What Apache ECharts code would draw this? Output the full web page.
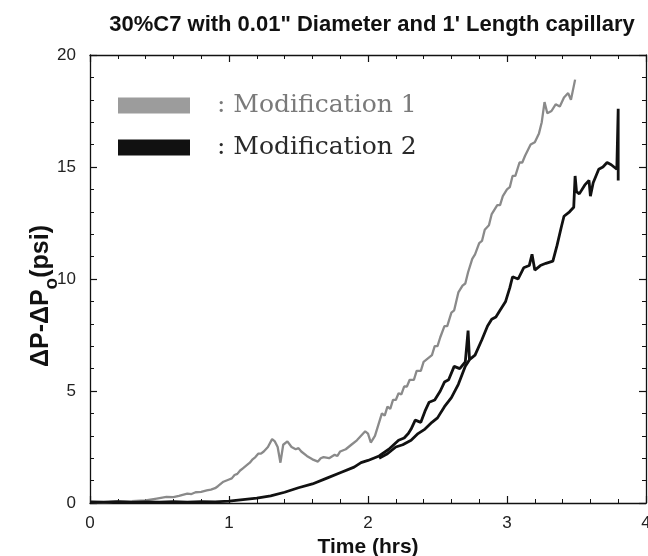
<!DOCTYPE html>
<html>
<head>
<meta charset="utf-8">
<script src="https://cdn.jsdelivr.net/npm/echarts@6/dist/echarts.min.js"></script>
<style>html,body{margin:0;padding:0;background:#fff;}#c{width:648px;height:556px;}</style>
</head>
<body>
<div id="c"></div>
<script>
var titleText = '30%C7 with 0.01" Diameter and 1\' Length capillary';
var xTicks = [0, 1, 2, 3, 4];
var yTicks = [0, 5, 10, 15, 20];
var seriesNames = ['Modification 1', 'Modification 2'];

// Modification 1 (gray) [time hrs, dP psi]
var mod1 = [
[0,0.05],[0.1,0.03],[0.2,0.06],[0.3,0.08],[0.4,0.12],[0.48,0.2],[0.52,0.24],[0.55,0.27],[0.6,0.26],[0.64,0.32],
[0.7,0.42],[0.73,0.4],[0.76,0.48],[0.8,0.5],[0.84,0.56],[0.87,0.6],[0.9,0.66],[0.92,0.75],[0.96,0.95],[1.0,1.05],
[1.02,1.1],[1.04,1.25],[1.06,1.3],[1.08,1.45],[1.1,1.55],[1.13,1.7],[1.15,1.8],[1.17,1.95],[1.19,2.05],[1.21,2.2],[1.23,2.2],[1.25,2.3],[1.28,2.5],[1.31,2.85],
[1.33,2.75],[1.35,2.5],[1.37,1.8],[1.39,2.6],[1.42,2.75],[1.45,2.5],[1.48,2.4],[1.5,2.45],[1.52,2.3],
[1.56,2.1],[1.6,1.95],[1.64,1.85],[1.66,2.0],[1.68,2.05],[1.72,2.0],[1.76,2.15],[1.78,2.1],[1.8,2.3],[1.84,2.4],
[1.88,2.6],[1.92,2.8],[1.95,3.0],[1.98,3.2],[2.0,3.1],[2.02,2.7],[2.05,3.0],[2.08,3.6],
[2.1,4.0],[2.12,3.9],[2.14,4.3],[2.16,4.2],[2.18,4.6],[2.2,4.6],[2.22,4.9],[2.24,4.85],[2.26,5.2],[2.28,5.2],[2.3,5.5],[2.33,5.5],[2.35,5.9],[2.38,5.9],[2.4,6.3],
[2.44,6.5],[2.46,6.6],[2.48,7.0],[2.5,7.0],[2.52,7.4],[2.55,7.9],[2.57,7.9],[2.6,8.5],[2.62,8.6],[2.65,9.4],[2.68,9.7],[2.7,9.8],[2.72,10.3],
[2.75,10.9],[2.77,11.1],[2.8,11.6],[2.82,11.7],[2.84,12.2],[2.87,12.4],[2.89,12.9],[2.93,13.3],[2.95,13.3],[2.97,13.7],[3.0,14.0],[3.02,14.1],[3.04,14.6],[3.06,14.6],
[3.09,15.2],[3.11,15.2],[3.13,15.5],[3.17,16.0],[3.2,16.1],[3.23,16.5],[3.25,17.0],[3.27,17.9],[3.29,17.4],
[3.32,17.5],[3.35,17.8],[3.38,17.7],[3.41,18.1],[3.44,18.3],[3.46,18.0],[3.48,18.6],[3.49,18.9]
];

// Modification 2 (black), main run [time hrs, dP psi]
var mod2 = [
[0,0.05],[0.1,0.04],[0.2,0.06],[0.3,0.03],[0.4,0.05],[0.5,0.04],[0.6,0.06],[0.7,0.04],
[0.8,0.06],[0.9,0.05],[1.0,0.08],[1.1,0.15],[1.2,0.22],[1.3,0.32],[1.4,0.48],[1.5,0.68],
[1.6,0.85],[1.7,1.1],[1.8,1.35],[1.9,1.6],[1.95,1.8],[2.0,1.9],[2.08,2.1],[2.15,2.4],
[2.22,2.8],[2.26,2.9],[2.29,3.1],[2.31,3.3],[2.34,3.7],[2.38,3.6],[2.41,4.1],[2.44,4.5],[2.48,4.6],[2.52,5.0],[2.55,5.4],
[2.58,5.5],[2.62,6.1],[2.66,6.0],[2.7,6.3],[2.72,7.7],[2.73,6.4],[2.77,6.6],[2.82,7.3],
[2.86,7.9],[2.89,8.2],[2.92,8.3],[2.95,8.6],[2.99,9.0],[3.02,9.6],[3.04,10.1],[3.08,10.0],[3.12,10.5],
[3.16,10.6],[3.18,11.1],[3.2,10.4],[3.24,10.6],[3.28,10.7],[3.33,10.8],[3.36,11.5],[3.39,12.3],
[3.41,12.8],[3.45,13.0],[3.48,13.2],[3.49,14.6],[3.5,13.9],[3.52,13.8],[3.56,14.2],[3.59,14.4],
[3.6,13.7],[3.62,14.3],[3.66,14.9],[3.69,15.0],[3.72,15.2],[3.75,15.1],[3.77,15.0],[3.79,14.9],
[3.8,17.6],[3.8,14.4]
];

// Modification 2 (black), second trace 2.1-2.7 hrs
var mod2b = [
[2.08,2.0],[2.14,2.2],[2.2,2.5],[2.25,2.6],[2.31,2.8],[2.36,3.1],[2.41,3.3],[2.46,3.6],
[2.5,3.8],[2.55,4.3],[2.6,4.7],[2.65,5.3],[2.7,6.1],[2.73,6.4]
];

var legendTextColors = ['#7a7a7a', '#2a2a2a'];

var chart = echarts.init(document.getElementById('c'));
var axisCommon = {
  type: 'value',
  axisLine: {show: true, onZero: false, lineStyle: {color: '#111', width: 1.3}},
  axisTick: {show: true, inside: true, length: 7, lineStyle: {color: '#111', width: 1.2}},
  minorTick: {show: true, splitNumber: 5, length: 4, lineStyle: {color: '#111', width: 1}},
  splitLine: {show: false},
  minorSplitLine: {show: false}
};
function merge(a, b) { var o = {}; for (var k in a) o[k] = a[k]; for (var k2 in b) o[k2] = b[k2]; return o; }

chart.setOption({
  animation: false,
  backgroundColor: '#fff',
  title: {
    text: titleText,
    left: 367, top: 9, textAlign: 'center',
    textStyle: {fontFamily: 'Liberation Sans', fontWeight: 'bold', fontSize: 22, color: '#111'}
  },
  legend: {
    data: seriesNames.map(function (n, i) { return {name: n, textStyle: {color: legendTextColors[i]}}; }),
    orient: 'vertical',
    left: 118, top: 92, padding: 0,
    itemWidth: 72, itemHeight: 16, itemGap: 15,
    icon: 'rect',
    formatter: function (n) { return ': ' + n; },
    textStyle: {fontFamily: 'DejaVu Serif', fontSize: 25, lineHeight: 27, color: '#333', padding: [0, 0, 0, 22]},
    selectedMode: false
  },
  grid: {left: 90, right: 2, top: 55, bottom: 53, outerBoundsMode: 'none', containLabel: false},
  xAxis: [
    merge(axisCommon, {
      min: 0, max: 4, interval: 1, position: 'bottom',
      axisLabel: {show: true, margin: 12, fontFamily: 'Liberation Sans', fontSize: 17, color: '#222',
        formatter: function (v) { return xTicks.indexOf(v) >= 0 ? String(v) : ''; }},
      name: 'Time (hrs)', nameLocation: 'middle', nameGap: 34, nameMoveOverlap: false,
      nameTextStyle: {fontFamily: 'Liberation Sans', fontWeight: 'bold', fontSize: 21, color: '#111'}
    }),
    merge(axisCommon, {min: 0, max: 4, interval: 1, position: 'top', axisLabel: {show: false}})
  ],
  yAxis: [
    merge(axisCommon, {
      min: 0, max: 20, interval: 5, position: 'left',
      axisLabel: {show: true, margin: 14, fontFamily: 'Liberation Sans', fontSize: 17, color: '#222',
        formatter: function (v) { return yTicks.indexOf(v) >= 0 ? String(v) : ''; }},
      name: '{a|ΔP-ΔP}{s|o}{a|(psi)}', nameLocation: 'middle', nameGap: 36, nameRotate: 90, nameMoveOverlap: false,
      nameTextStyle: {
        padding: [0, 34, 0, 0],
        rich: {
          a: {fontFamily: 'Liberation Sans', fontWeight: 'bold', fontSize: 25, color: '#111', lineHeight: 28, verticalAlign: 'bottom'},
          s: {fontFamily: 'Liberation Sans', fontWeight: 'bold', fontSize: 19, color: '#111', lineHeight: 28, verticalAlign: 'bottom', padding: [0, 0, -7, 0]}
        }
      }
    }),
    merge(axisCommon, {min: 0, max: 20, interval: 5, position: 'right', axisLabel: {show: false}})
  ],
  series: [
    {name: seriesNames[0], type: 'line', data: mod1, showSymbol: false, symbol: 'none',
      lineStyle: {color: '#8a8a8a', width: 2.3}, itemStyle: {color: '#9c9c9c'}, z: 3},
    {name: seriesNames[1], type: 'line', data: mod2, showSymbol: false, symbol: 'none',
      lineStyle: {color: '#111', width: 2.8}, itemStyle: {color: '#111'}, z: 4},
    {name: 'Modification 2b', type: 'line', data: mod2b, showSymbol: false, symbol: 'none',
      lineStyle: {color: '#111', width: 2.8}, itemStyle: {color: '#111'}, z: 4}
  ]
});
</script>
</body>
</html>
